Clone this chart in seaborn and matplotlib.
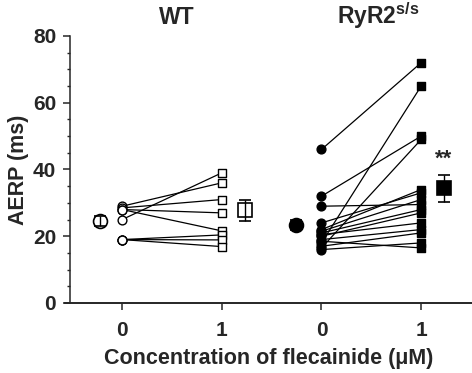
import matplotlib
matplotlib.use("Agg")
import pandas as pd
import matplotlib.pyplot as plt
import seaborn as sns
from matplotlib.ticker import MultipleLocator
from matplotlib.transforms import blended_transform_factory

# AERP (ms) per mouse, before (0) and after (1 uM) flecainide
wt_0 = [29, 28.5, 28, 28, 25, 19, 19, 19]
wt_1 = [36, 31, 27, 21.6, 39, 20.4, 18.9, 16.9]
ryr_0 = [46, 32, 29, 24, 18, 16.5, 22, 21.5, 21, 20.5, 20, 19, 18.5, 17, 16]
ryr_1 = [72, 50, 29.5, 33, 65, 49, 34, 31, 28, 24, 27, 22, 16.5, 21, 18]

# group means and SEM (WT 0, WT 1, RyR2 0, RyR2 1)
mean_vals = [24.5, 27.8, 23.4, 34.4]
sem_vals = [1.5, 3.1, 1.4, 4.0]

tick_labels = ["0", "1", "0", "1"]
group_titles = ["WT", r"$\mathbf{RyR2^{s/s}}$"]

sns.set_style("ticks")
plt.rcParams["font.family"] = ["Liberation Sans", "DejaVu Sans"]
plt.rcParams["font.weight"] = "bold"
plt.rcParams["mathtext.fontset"] = "custom"
plt.rcParams["mathtext.bf"] = "Liberation Sans:bold"
plt.rcParams["mathtext.rm"] = "Liberation Sans"

rows = []
for grp, before, after, base in [("WT", wt_0, wt_1, 0), ("RyR2", ryr_0, ryr_1, 2)]:
    for i, (b, a) in enumerate(zip(before, after)):
        rows.append(dict(mouse=f"{grp}{i}", group=grp, pos=base, aerp=b))
        rows.append(dict(mouse=f"{grp}{i}", group=grp, pos=base + 1, aerp=a))
df = pd.DataFrame(rows)

fig = plt.figure(figsize=(4.72, 3.73), dpi=100)
ax = fig.add_axes([0.138, 0.1877, 0.862, 0.7158])

# paired lines
sns.lineplot(data=df, x="pos", y="aerp", units="mouse", estimator=None,
             color="black", lw=0.9, ax=ax, legend=False, zorder=2)

# individual points
marker_specs = [("WT", 0, "o", "white"), ("WT", 1, "s", "white"),
                ("RyR2", 2, "o", "black"), ("RyR2", 3, "s", "black")]
for grp, pos, mk, fc in marker_specs:
    sub = df[(df.group == grp) & (df.pos == pos)]
    sns.scatterplot(x=sub["pos"], y=sub["aerp"], marker=mk, s=40 if mk == "o" else 36,
                    color=fc, edgecolor="black", linewidth=1.0, ax=ax, zorder=3)

# mean +/- SEM
mean_pos = [-0.22, 1.23, 1.74, 3.23]
mean_style = [("o", "none"), ("s", "none"), ("o", "black"), ("s", "black")]
for xp, m, e, (mk, fc) in zip(mean_pos, mean_vals, sem_vals, mean_style):
    ax.errorbar(xp, m, yerr=e, fmt=mk, ms=10 if mk == "o" else 9.5, mfc=fc, mec="black",
                mew=1.2, ecolor="black", elinewidth=1.0, capsize=4.5, capthick=1.0, zorder=4)

ax.text(3.23, 39.8, "**", ha="center", va="bottom", fontsize=16, fontweight="bold")

ax.set_xlim(-0.572, 3.51)
ax.set_ylim(0, 80)
ax.set_xticks([0, 1, 2, 3])
ax.set_xticklabels(tick_labels)
ax.set_yticks([0, 20, 40, 60, 80])
ax.yaxis.set_minor_locator(MultipleLocator(5))
ax.tick_params(axis="both", which="major", labelsize=15, width=1.1, length=5, direction="out")
ax.tick_params(axis="x", which="major", pad=8)
ax.tick_params(axis="y", which="major", pad=5)
ax.tick_params(axis="y", which="minor", width=1.0, length=2.5, direction="out")
for lab in ax.get_xticklabels() + ax.get_yticklabels():
    lab.set_fontweight("bold")

sns.despine(ax=ax)
ax.spines["left"].set_position(("axes", 0.012))
ax.spines["left"].set_linewidth(1.1)
ax.spines["bottom"].set_linewidth(1.4)

ax.set_xlabel("Concentration of flecainide (μM)", fontsize=15.5, fontweight="bold", labelpad=6)
ax.set_ylabel("AERP (ms)", fontsize=15.5, fontweight="bold", labelpad=3)

trans = blended_transform_factory(ax.transData, fig.transFigure)
ax.text(0.55, 0.935, group_titles[0], transform=trans, ha="center", va="baseline",
        fontsize=16.5, fontweight="bold")
ax.text(2.57, 0.935, group_titles[1], transform=trans, ha="center", va="baseline",
        fontsize=16.5, fontweight="bold")

fig.savefig("out.png", dpi=100)
